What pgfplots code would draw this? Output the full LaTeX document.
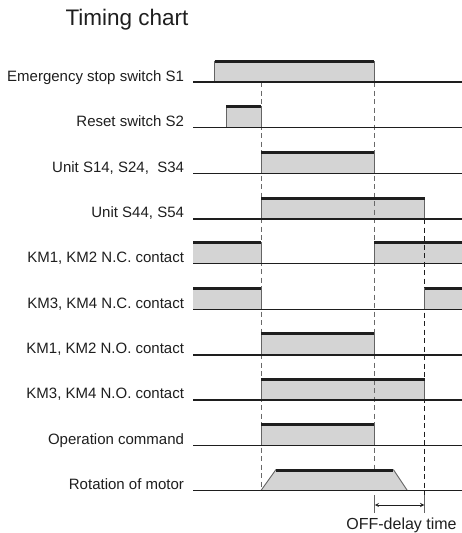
\documentclass[border=0pt]{standalone}
\usepackage{pgfplots}
\pgfplotsset{compat=1.18}
\usepackage{fontspec}
\setmainfont{Liberation Sans}
\definecolor{fillgray}{RGB}{212,212,212}
\definecolor{edgegray}{RGB}{100,100,100}
\definecolor{dashgray}{RGB}{105,105,105}
\definecolor{lineblack}{RGB}{30,30,30}
\tikzset{
  lbl/.style={anchor=base east, font=\fontsize{15}{18}\selectfont, text=lineblack},
  pfill/.style={fill=fillgray, draw=none},
  edge/.style={edgegray, line width=0.9pt},
  topl/.style={lineblack, line width=3pt},
  base/.style={lineblack, line width=1.4pt},
  dsh/.style={dashgray, line width=0.9pt, dash pattern=on 5pt off 3.5pt},
}
\begin{document}
\begin{tikzpicture}[x=1pt,y=1pt]
\begin{axis}[at={(0,0)},anchor=south west, scale only axis,
  width=462pt, height=533pt, xmin=0, xmax=462, ymin=0, ymax=533,
  y dir=reverse, hide axis, clip=false, every axis plot/.append style={forget plot}]
% ---------- fills ----------
% Row 1: Emergency stop switch S1 (base 82)
\addplot[pfill] coordinates {(214.7,82) (214.7,60.5) (374,60.5) (374,82)};
% Row 2: Reset switch S2 (base 127.7)
\addplot[pfill] coordinates {(226,127.7) (226,106.2) (261,106.2) (261,127.7)};
% Row 3: Unit S14, S24, S34 (base 173.3)
\addplot[pfill] coordinates {(261,173.3) (261,151.8) (374,151.8) (374,173.3)};
% Row 4: Unit S44, S54 (base 219)
\addplot[pfill] coordinates {(261,219) (261,197.5) (424.5,197.5) (424.5,219)};
% Row 5: KM1, KM2 N.C. (base 263.4)
\addplot[pfill] coordinates {(193,263.4) (193,241.9) (261,241.9) (261,263.4)};
\addplot[pfill] coordinates {(374,263.4) (374,241.9) (462,241.9) (462,263.4)};
% Row 6: KM3, KM4 N.C. (base 309.2)
\addplot[pfill] coordinates {(193,309.2) (193,287.7) (261,287.7) (261,309.2)};
\addplot[pfill] coordinates {(424.5,309.2) (424.5,287.7) (462,287.7) (462,309.2)};
% Row 7: KM1, KM2 N.O. (base 354.8)
\addplot[pfill] coordinates {(261,354.8) (261,333.3) (374,333.3) (374,354.8)};
% Row 8: KM3, KM4 N.O. (base 400)
\addplot[pfill] coordinates {(261,400) (261,378.5) (424.5,378.5) (424.5,400)};
% Row 9: Operation command (base 445.6)
\addplot[pfill] coordinates {(261,445.6) (261,424.1) (374,424.1) (374,445.6)};
% Row 10: Rotation of motor (base 490.5)
\addplot[pfill] coordinates {(261,490.5) (276,469.5) (393.3,469.5) (407.3,490.5)};

% ---------- dashed guide lines ----------
\addplot[dsh] coordinates {(261,82) (261,490.5)};
\addplot[dsh] coordinates {(374,82) (374,469.5)};
\addplot[dsh, lineblack] coordinates {(424.5,219) (424.5,495)};

% ---------- side edges ----------
\addplot[edge] coordinates {(214.7,82) (214.7,60.5)};
\addplot[edge] coordinates {(374,82) (374,60.5)};
\addplot[edge] coordinates {(226,127.7) (226,106.2)};
\addplot[edge] coordinates {(261,127.7) (261,106.2)};
\addplot[edge] coordinates {(261,173.3) (261,151.8)};
\addplot[edge] coordinates {(374,173.3) (374,151.8)};
\addplot[edge] coordinates {(261,219) (261,197.5)};
\addplot[edge] coordinates {(424.5,219) (424.5,197.5)};
\addplot[edge] coordinates {(261,263.4) (261,241.9)};
\addplot[edge] coordinates {(374,263.4) (374,241.9)};
\addplot[edge] coordinates {(261,309.2) (261,287.7)};
\addplot[edge] coordinates {(424.5,309.2) (424.5,287.7)};
\addplot[edge] coordinates {(261,354.8) (261,333.3)};
\addplot[edge] coordinates {(374,354.8) (374,333.3)};
\addplot[edge] coordinates {(261,400) (261,378.5)};
\addplot[edge] coordinates {(424.5,400) (424.5,378.5)};
\addplot[edge] coordinates {(261,445.6) (261,424.1)};
\addplot[edge] coordinates {(374,445.6) (374,424.1)};
\addplot[edge] coordinates {(261,490.5) (276,469.5)};
\addplot[edge] coordinates {(393.3,469.5) (407.3,490.5)};

% ---------- baselines ----------
\addplot[base] coordinates {(193,82) (462,82)};
\addplot[base] coordinates {(193,127.7) (462,127.7)};
\addplot[base] coordinates {(193,173.3) (462,173.3)};
\addplot[base] coordinates {(193,219) (462,219)};
\addplot[base] coordinates {(193,263.4) (462,263.4)};
\addplot[base] coordinates {(193,309.2) (462,309.2)};
\addplot[base] coordinates {(193,354.8) (462,354.8)};
\addplot[base] coordinates {(193,400) (462,400)};
\addplot[base] coordinates {(193,445.6) (462,445.6)};
\addplot[base] coordinates {(193,490.5) (462,490.5)};

% ---------- thick top lines ----------
\addplot[topl] coordinates {(214.7,61) (374,61)};
\addplot[topl] coordinates {(226,106.7) (261,106.7)};
\addplot[topl] coordinates {(261,152.3) (374,152.3)};
\addplot[topl] coordinates {(261,198) (424.5,198)};
\addplot[topl] coordinates {(193,242.4) (261,242.4)};
\addplot[topl] coordinates {(374,242.4) (462,242.4)};
\addplot[topl] coordinates {(193,288.2) (261,288.2)};
\addplot[topl] coordinates {(424.5,288.2) (462,288.2)};
\addplot[topl] coordinates {(261,333.8) (374,333.8)};
\addplot[topl] coordinates {(261,379) (424.5,379)};
\addplot[topl] coordinates {(261,424.6) (374,424.6)};
\addplot[topl] coordinates {(276,470) (393.3,470)};

% ---------- OFF-delay marker ----------
\addplot[edge] coordinates {(374.3,495) (374.3,513)};
\addplot[edge] coordinates {(424.8,495) (424.8,513)};
\addplot[lineblack, line width=0.9pt, <->, >=stealth, shorten <=0.5pt, shorten >=0.5pt] coordinates {(374.3,505) (424.8,505)};

% ---------- labels ----------
\node[anchor=base west, font=\fontsize{22.5}{26}\selectfont, text=lineblack] at (axis cs:62,25.5) {Timing chart};
\node[lbl] at (axis cs:187.5,81) {Emergency stop switch S1};
\node[lbl] at (axis cs:187.5,126.5) {Reset switch S2};
\node[lbl] at (axis cs:187.5,172) {Unit S14, S24,\ \ S34};
\node[lbl] at (axis cs:187.5,217.5) {Unit S44, S54};
\node[lbl] at (axis cs:187.5,262) {KM1, KM2 N.C. contact};
\node[lbl] at (axis cs:187.5,308) {KM3, KM4 N.C. contact};
\node[lbl] at (axis cs:187.5,353.5) {KM1, KM2 N.O. contact};
\node[lbl] at (axis cs:187.5,398.5) {KM3, KM4 N.O. contact};
\node[lbl] at (axis cs:187.5,444.5) {Operation command};
\node[lbl] at (axis cs:187.5,489.5) {Rotation of motor};
\node[anchor=base, font=\fontsize{16}{19}\selectfont, text=lineblack] at (axis cs:401.5,529.5) {OFF-delay time};
\end{axis}
\pgfresetboundingbox
\path (0,0) rectangle (462,533);
\end{tikzpicture}
\end{document}
